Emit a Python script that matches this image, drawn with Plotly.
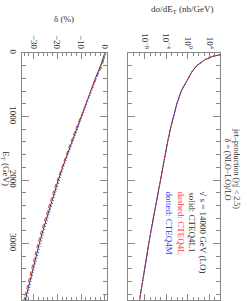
import plotly.graph_objects as go

# ---- data ----
et_sigma = [15, 50, 100, 150, 200, 300, 400, 500, 600, 800, 1000, 1200, 1400, 1600,
            1800, 2000, 2200, 2400, 2600, 2800, 3000, 3200, 3400, 3600, 3800, 3950]
sigma_L1 = [3e6, 4e4, 1.6e3, 2e2, 4e1, 5.0, 1.0, 0.22, 5.6e-2, 9e-3, 2e-3, 5.6e-4, 1.8e-4,
            6.3e-5, 2.2e-5, 7.9e-6, 2.8e-6, 1e-6, 3.8e-7, 1.5e-7, 5.9e-8, 2.3e-8, 9.5e-9,
            4e-9, 1.7e-9, 8.9e-10]
sigma_L = [3.1e6, 4.1e4, 1.65e3, 2.05e2, 4.1e1, 5.1, 1.02, 0.225, 5.7e-2, 9.1e-3, 2.02e-3,
           5.7e-4, 1.82e-4, 6.4e-5, 2.22e-5, 8e-6, 2.83e-6, 1.01e-6, 3.85e-7, 1.52e-7,
           6e-8, 2.33e-8, 9.6e-9, 4.05e-9, 1.72e-9, 9e-10]
sigma_M = [2.9e6, 3.9e4, 1.55e3, 1.95e2, 3.9e1, 4.9, 0.98, 0.215, 5.5e-2, 8.9e-3, 1.98e-3,
           5.5e-4, 1.78e-4, 6.2e-5, 2.18e-5, 7.8e-6, 2.77e-6, 0.99e-6, 3.75e-7, 1.48e-7,
           5.8e-8, 2.27e-8, 9.4e-9, 3.95e-9, 1.68e-9, 8.8e-10]

et_delta = [0, 200, 400, 600, 800, 1000, 1200, 1400, 1600, 1800, 2000, 2200, 2400,
            2600, 2800, 3000, 3200, 3400, 3600, 3800, 3950]
delta_L1 = [0.0, -1.8, -4.0, -6.0, -8.0, -10.0, -12.0, -14.0, -15.9, -17.8, -19.6, -21.3,
            -23.0, -24.6, -26.1, -27.6, -29.0, -30.4, -31.7, -33.0, -33.9]
delta_L = [0.3, -1.1, -3.7, -5.9, -8.1, -10.2, -12.3, -14.3, -16.3, -18.2, -20.0, -21.8,
           -23.5, -25.1, -26.7, -28.2, -29.6, -31.0, -32.3, -33.6, -34.5]
delta_M = [0.4, -1.6, -3.8, -5.8, -7.8, -9.8, -11.7, -13.7, -15.5, -17.4, -19.1, -20.8,
           -22.4, -24.0, -25.5, -27.0, -28.4, -29.8, -31.1, -32.4, -33.3]

et_ticks = [0, 1000, 2000, 3000, 4000]
delta_ticks = [0, -10, -20, -30]
sigma_ticks = [1e-8, 1e-4, 1e0, 1e4]
sigma_ticktext = ["10<sup>−8</sup>", "10<sup>−4</sup>", "10<sup>0</sup>", "10<sup>4</sup>"]

FONT = "Liberation Serif"
DARK = "#333333"
RED = "#ff3333"
BLUE = "#3333ff"
AX = "#888888"

fig = go.Figure()
fig.add_trace(go.Scatter(x=delta_L1, y=et_delta, mode="lines", line=dict(color=DARK, width=1),
                         xaxis="x", yaxis="y", showlegend=False, hoverinfo="skip"))
fig.add_trace(go.Scatter(x=delta_L, y=et_delta, mode="lines",
                         line=dict(color=RED, width=1, dash="4px,3px"),
                         xaxis="x", yaxis="y", showlegend=False, hoverinfo="skip"))
fig.add_trace(go.Scatter(x=delta_M, y=et_delta, mode="lines",
                         line=dict(color=BLUE, width=1, dash="1px,2px"),
                         xaxis="x", yaxis="y", showlegend=False, hoverinfo="skip"))
fig.add_trace(go.Scatter(x=sigma_L1, y=et_sigma, mode="lines", line=dict(color=DARK, width=1),
                         xaxis="x2", yaxis="y2", showlegend=False, hoverinfo="skip"))
fig.add_trace(go.Scatter(x=sigma_L, y=et_sigma, mode="lines",
                         line=dict(color=RED, width=1, dash="4px,3px"),
                         xaxis="x2", yaxis="y2", showlegend=False, hoverinfo="skip"))
fig.add_trace(go.Scatter(x=sigma_M, y=et_sigma, mode="lines",
                         line=dict(color=BLUE, width=1, dash="1px,2px"),
                         xaxis="x2", yaxis="y2", showlegend=False, hoverinfo="skip"))

W, H = 247, 301
def px(x):
    return x / W
def py(y):
    return 1 - y / H

tickfont = dict(family=FONT, size=9, color=DARK)
common_x = dict(side="top", showline=True, linecolor=AX, linewidth=1, mirror="ticks",
                ticks="inside", ticklen=6, tickcolor=AX, tickangle=90,
                showgrid=False, zeroline=False, tickfont=tickfont)

fig.update_layout(
    width=W, height=H, margin=dict(l=0, r=0, t=0, b=0),
    paper_bgcolor="white", plot_bgcolor="white", hovermode=False,
    xaxis=dict(domain=[px(22), px(108)], range=[-35, 0.8], anchor="y",
               tickvals=delta_ticks, ticktext=["0", "−10", "−20", "−30"],
               minor=dict(dtick=2, ticklen=3, tickcolor=AX, ticks="inside"),
               **common_x),
    xaxis2=dict(domain=[px(130), px(223)], type="log", range=[-11, 6], anchor="y2",
                tickvals=sigma_ticks, ticktext=sigma_ticktext,
                minor=dict(tickvals=[10.0 ** k for k in range(-11, 7)], ticklen=3,
                           tickcolor=AX, ticks="inside"),
                **common_x),
    yaxis=dict(domain=[0, py(50)], range=[3890, 0], anchor="x",
               showline=True, linecolor=AX, linewidth=1, mirror="ticks",
               ticks="inside", ticklen=7, tickcolor=AX, tickangle=90,
               tickvals=et_ticks, showgrid=False, zeroline=False, tickfont=tickfont,
               minor=dict(dtick=200, ticklen=4, tickcolor=AX, ticks="inside")),
    yaxis2=dict(domain=[0, py(50)], range=[3890, 0], anchor="x2", matches="y",
                showline=True, linecolor=AX, linewidth=1, mirror="ticks",
                ticks="inside", ticklen=7, tickcolor=AX, showticklabels=False,
                tickvals=et_ticks, showgrid=False, zeroline=False,
                minor=dict(dtick=200, ticklen=4, tickcolor=AX, ticks="inside")),
)

def ann(text, x, y, angle=0, color=DARK, size=9, xa="center", ya="middle"):
    fig.add_annotation(text=text, x=px(x), y=py(y), xref="paper", yref="paper",
                       showarrow=False, textangle=angle, xanchor=xa, yanchor=ya,
                       borderpad=0, font=dict(family=FONT, size=size, color=color))

ann("δ (%)", 65, 15)
ann("dσ/dE<sub>T</sub> (nb/GeV)", 184, 6)
ann("E<sub>T</sub> (GeV)", 6, 168, angle=90)
ann("jet–production (|η| &lt; 2.5)", 240, 209, angle=90, size=8, ya="bottom")
ann("δ = (NLO−LO)/LO", 230, 201, angle=90, size=8, ya="bottom")
ann("√ s = 14000 GeV (LO)", 206, 190, angle=90, ya="top")
ann("solid: CTEQ4L1", 195, 190, angle=90, ya="top")
ann("dashed: CTEQ4L", 183, 190, angle=90, ya="top", color=RED)
ann("dotted: CTEQ4M", 171, 190, angle=90, ya="top", color=BLUE)

fig.write_html("out.html", config={"displayModeBar": False, "staticPlot": True},
               post_script="document.body.style.margin='0';document.body.style.overflow='hidden';")
